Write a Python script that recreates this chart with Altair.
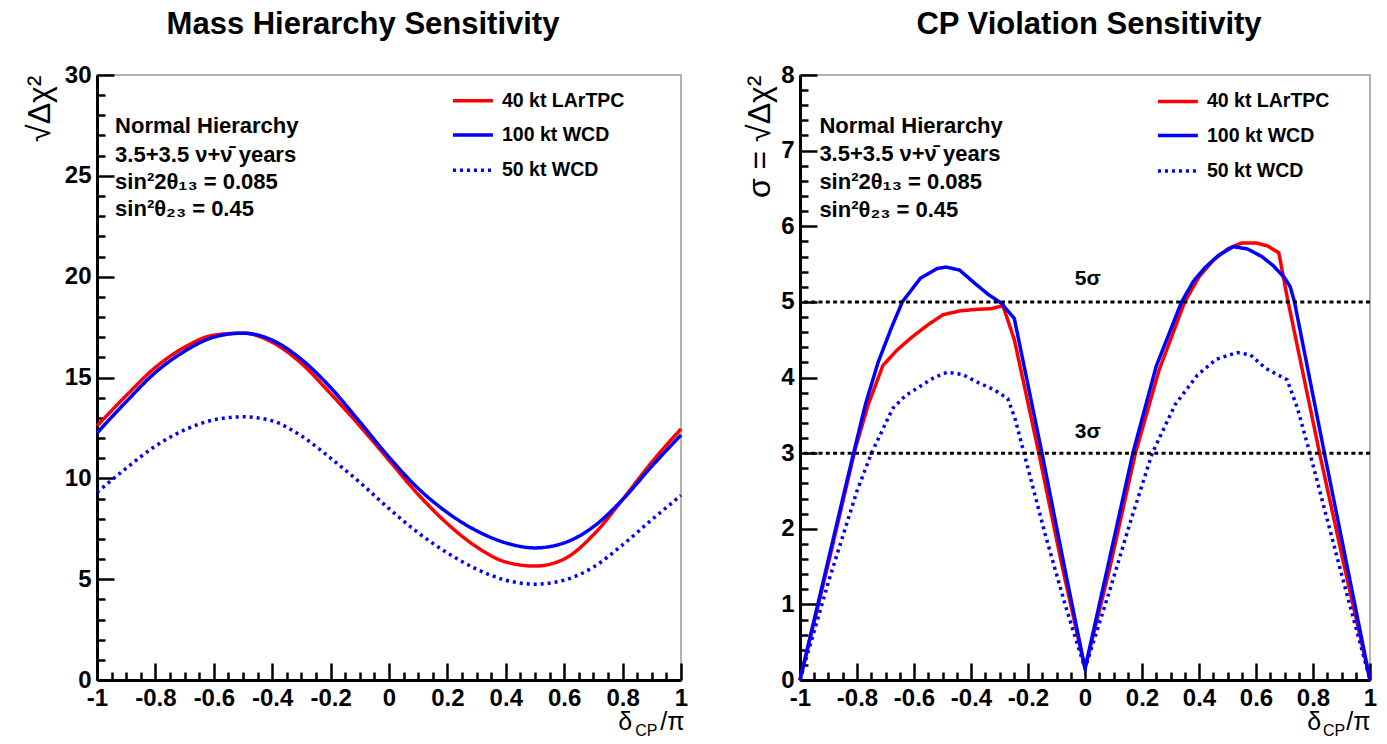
import altair as alt
import pandas as pd

FONT = "Liberation Sans"
SERIES = ["40 kt LArTPC", "100 kt WCD", "50 kt WCD"]
COLORS = ["#ff0000", "#0000ff", "#0000ff"]
DASHES = [[1, 0], [1, 0], [3, 4]]

# ---------------- Mass hierarchy sensitivity (left) ----------------
MH_X = [-1.0, -0.9, -0.8, -0.7, -0.6, -0.5, -0.4, -0.3, -0.2, -0.1, 0.0,
        0.1, 0.2, 0.3, 0.4, 0.5, 0.6, 0.7, 0.8, 0.9, 1.0]
MH_LAR = [12.6, 14.1, 15.5, 16.5, 17.1, 17.2, 16.75, 15.7, 14.2, 12.6, 10.9,
          9.2, 7.75, 6.6, 5.85, 5.65, 6.0, 7.2, 8.95, 10.8, 12.45]
MH_WCD100 = [12.25, 13.8, 15.25, 16.3, 17.0, 17.2, 16.85, 15.9, 14.5, 12.8, 11.05,
             9.5, 8.3, 7.4, 6.8, 6.55, 6.8, 7.6, 8.95, 10.6, 12.15]
MH_WCD50 = [9.3, 10.5, 11.6, 12.4, 12.9, 13.05, 12.85, 12.1, 11.0, 9.8, 8.5,
            7.3, 6.3, 5.5, 4.95, 4.75, 4.95, 5.6, 6.7, 7.95, 9.15]

# ---------------- CP violation sensitivity (right) ----------------
CP_LAR_X = [-1.0, -0.9, -0.806, -0.76, -0.709, -0.66, -0.612, -0.55, -0.498, -0.44,
            -0.385, -0.33, -0.288, -0.248, -0.162, -0.08, 0.0,
            0.085, 0.177, 0.26, 0.35, 0.40, 0.45, 0.50, 0.55, 0.60, 0.64, 0.68,
            0.71, 0.823, 0.91, 1.0]
CP_LAR_Y = [0.0, 1.55, 3.06, 3.65, 4.16, 4.36, 4.52, 4.7, 4.83, 4.88,
            4.9, 4.91, 4.95, 4.5, 3.0, 1.5, 0.15,
            1.45, 3.0, 4.1, 5.0, 5.33, 5.55, 5.7, 5.78, 5.78, 5.74, 5.65,
            5.05, 3.0, 1.5, 0.0]
CP_WCD100_X = [-1.0, -0.95, -0.9, -0.85, -0.812, -0.77, -0.726, -0.68, -0.641, -0.578,
               -0.52, -0.487, -0.44, -0.385, -0.34, -0.293, -0.248, -0.151, -0.075, 0.0,
               0.08, 0.168, 0.25, 0.339, 0.38, 0.42, 0.47, 0.52, 0.57, 0.62, 0.66,
               0.70, 0.72, 0.735, 0.84, 0.92, 1.0]
CP_WCD100_Y = [0.0, 0.8, 1.6, 2.4, 3.0, 3.65, 4.2, 4.65, 5.0, 5.31,
               5.44, 5.46, 5.42, 5.24, 5.1, 4.98, 4.78, 3.0, 1.55, 0.15,
               1.5, 3.0, 4.15, 5.0, 5.27, 5.45, 5.62, 5.73, 5.7, 5.6, 5.48,
               5.32, 5.2, 5.0, 3.0, 1.5, 0.0]
CP_WCD50_X = [-1.0, -0.9, -0.8, -0.749, -0.675, -0.63, -0.584, -0.53, -0.483, -0.43,
              -0.379, -0.32, -0.271, -0.245, -0.214, -0.14, -0.07, 0.0,
              0.088, 0.16, 0.236, 0.316, 0.394, 0.46, 0.533, 0.58, 0.634, 0.709,
              0.745, 0.789, 0.9, 1.0]
CP_WCD50_Y = [0.0, 1.3, 2.5, 3.0, 3.59, 3.76, 3.87, 4.0, 4.07, 4.04,
              3.94, 3.84, 3.72, 3.45, 3.0, 1.93, 1.0, 0.15,
              1.2, 2.1, 3.0, 3.64, 4.03, 4.24, 4.33, 4.3, 4.12, 3.97,
              3.6, 3.0, 1.4, 0.0]

SIGMA_LEVELS = [3, 5]
SIGMA_LABELS = ["3σ", "5σ"]
SIGMA_LABEL_X = [0.01, 0.01]
SIGMA_LABEL_Y = [3.28, 5.30]

NOTES = ["Normal Hierarchy", "3.5+3.5 ν+ν̄ years", "sin²2θ₁₃ = 0.085", "sin²θ₂₃ = 0.45"]
XTITLE_PARTS = ["δ", "CP", "/π"]
XTITLE_SIZES = [25, 16, 25]

# annotation anchors in data units
MH_NOTE_X, MH_NOTE_Y = -0.938, [27.47, 26.03, 24.69, 23.35]
CP_NOTE_X, CP_NOTE_Y = -0.932, [7.33, 6.96, 6.58, 6.21]
MH_LEG = dict(x1=0.219, x2=0.356, xt=0.387, y=[28.72, 27.02, 25.28])
CP_LEG = dict(x1=0.256, x2=0.396, xt=0.428, y=[7.65, 7.2, 6.73])
MH_XT = dict(x=[0.785, 0.843, 0.929], y=[-2.083, -2.53, -2.083])
CP_XT = dict(x=[0.78, 0.835, 0.917], y=[-0.555, -0.674, -0.555])

X_MAJOR = [-1, -0.8, -0.6, -0.4, -0.2, 0, 0.2, 0.4, 0.6, 0.8, 1]
X_MINOR = [round(-1 + 0.05 * i, 2) for i in range(41) if i % 4]
MH_Y_MAJOR = [0, 5, 10, 15, 20, 25, 30]
MH_Y_MINOR = [v for v in range(31) if v % 5]
CP_Y_MAJOR = [0, 1, 2, 3, 4, 5, 6, 7, 8]
CP_Y_MINOR = [round(0.2 * i, 1) for i in range(41) if i % 5]

H = 605


def long_df(parts):
    rows = []
    for name, xs, ys in parts:
        for i, (x, y) in enumerate(zip(xs, ys)):
            rows.append({"series": name, "x": x, "y": y, "i": i})
    return pd.DataFrame(rows)


def panel(df, W, interp, ymax, y_major, y_minor, y_title, title_pad, leg, note_x, note_y, xt,
          title, title_dx, extra=()):
    xsc = alt.Scale(domain=[-1, 1], nice=False, zero=False)
    ysc = alt.Scale(domain=[0, ymax], nice=False, zero=False)
    col = alt.Color("series:N", scale=alt.Scale(domain=SERIES, range=COLORS), legend=None)
    dash = alt.StrokeDash("series:N", scale=alt.Scale(domain=SERIES, range=DASHES), legend=None)

    xaxis = alt.Axis(orient="bottom", values=X_MAJOR, labelExpr="'' + datum.value", ticks=False,
                     domainColor="black", domainWidth=3, labelFont=FONT, labelFontSize=24,
                     labelFontWeight="bold", labelColor="black", labelPadding=6, grid=False,
                     title=None, labelFlush=False)
    yaxis = alt.Axis(orient="left", values=y_major, labelExpr="'' + datum.value", ticks=False,
                     domainColor="black", domainWidth=3, labelFont=FONT, labelFontSize=24,
                     labelFontWeight="bold", labelColor="black", labelPadding=6, grid=False,
                     title=y_title, titleAnchor="end", titleFont=FONT, titleFontSize=32,
                     titleFontWeight="normal", titleColor="black", titlePadding=title_pad,
                     labelFlush=False)

    lines = alt.Chart(df).mark_line(strokeWidth=3.5, interpolate=interp).encode(
        x=alt.X("x:Q", scale=xsc, axis=xaxis),
        y=alt.Y("y:Q", scale=ysc, axis=yaxis),
        color=col, strokeDash=dash, order="i:Q",
    )

    leg_df = pd.DataFrame({"series": SERIES, "x1": leg["x1"], "x2": leg["x2"],
                           "xt": leg["xt"], "y": leg["y"]})
    leg_lines = alt.Chart(leg_df).mark_rule(strokeWidth=3.5).encode(
        x=alt.X("x1:Q", scale=xsc), x2="x2:Q", y=alt.Y("y:Q", scale=ysc),
        color=col, strokeDash=dash)
    leg_text = alt.Chart(leg_df).mark_text(align="left", baseline="middle", font=FONT,
                                           fontSize=19.5, fontWeight="bold", color="black").encode(
        x=alt.X("xt:Q", scale=xsc), y=alt.Y("y:Q", scale=ysc), text="series:N")

    note_df = pd.DataFrame({"text": NOTES, "x": note_x, "y": note_y})
    notes = alt.Chart(note_df).mark_text(align="left", baseline="middle", font=FONT,
                                         fontSize=22, fontWeight="bold", color="black").encode(
        x=alt.X("x:Q", scale=xsc), y=alt.Y("y:Q", scale=ysc), text="text:N")

    xt_df = pd.DataFrame({"text": XTITLE_PARTS, "x": xt["x"], "y": xt["y"], "fs": XTITLE_SIZES})
    xtitle = alt.Chart(xt_df).mark_text(align="left", baseline="middle", font=FONT,
                                        color="black").encode(
        x=alt.X("x:Q", scale=xsc), y=alt.Y("y:Q", scale=ysc), text="text:N",
        size=alt.Size("fs:Q", scale=None))

    inner = alt.layer(lines, leg_lines, leg_text, notes, xtitle, *[e(xsc, ysc) for e in extra])

    dummy = pd.DataFrame({"x": [-1, 1], "y": [0, ymax]})

    def ticks(xv, yv, size):
        return alt.Chart(dummy).mark_point(opacity=0).encode(
            x=alt.X("x:Q", scale=xsc, axis=alt.Axis(orient="top", offset=-H, values=xv,
                                                     tickSize=size, tickWidth=2.5, tickColor="black",
                                                     labels=False, domain=False, grid=False, title=None)),
            y=alt.Y("y:Q", scale=ysc, axis=alt.Axis(orient="right", offset=-W, values=yv,
                                                     tickSize=size, tickWidth=2.5, tickColor="black",
                                                     labels=False, domain=False, grid=False, title=None)),
        )

    return alt.layer(inner, ticks(X_MAJOR, y_major, 17), ticks(X_MINOR, y_minor, 8)).resolve_scale(
        x="independent", y="independent").properties(
        width=W, height=H,
        title=alt.TitleParams(title, font=FONT, fontSize=31, fontWeight="bold", anchor="middle",
                              color="black", offset=22, dx=title_dx))


def sigma_layers(xsc, ysc):
    sdf = pd.DataFrame({"y": SIGMA_LEVELS})
    return alt.Chart(sdf).mark_rule(color="black", strokeWidth=3, strokeDash=[4, 3.3]).encode(
        y=alt.Y("y:Q", scale=ysc))


def sigma_text(xsc, ysc):
    tdf = pd.DataFrame({"text": SIGMA_LABELS, "x": SIGMA_LABEL_X, "y": SIGMA_LABEL_Y})
    return alt.Chart(tdf).mark_text(align="center", baseline="middle", font=FONT, fontSize=21,
                                    fontWeight="bold", color="black").encode(
        x=alt.X("x:Q", scale=xsc), y=alt.Y("y:Q", scale=ysc), text="text:N")


mh_df = long_df([(SERIES[0], MH_X, MH_LAR), (SERIES[1], MH_X, MH_WCD100), (SERIES[2], MH_X, MH_WCD50)])
cp_df = long_df([(SERIES[0], CP_LAR_X, CP_LAR_Y), (SERIES[1], CP_WCD100_X, CP_WCD100_Y),
                 (SERIES[2], CP_WCD50_X, CP_WCD50_Y)])

left = panel(mh_df, 584, "monotone", 30, MH_Y_MAJOR, MH_Y_MINOR, "√Δχ²", 8, MH_LEG, MH_NOTE_X,
             MH_NOTE_Y, MH_XT, "Mass Hierarchy Sensitivity", -26)
right = panel(cp_df, 570, "linear", 8, CP_Y_MAJOR, CP_Y_MINOR, "σ = √Δχ²", 4, CP_LEG, CP_NOTE_X,
              CP_NOTE_Y, CP_XT, "CP Violation Sensitivity", 4, extra=(sigma_layers, sigma_text))

chart = alt.hconcat(left, right, spacing=53).configure_view(
    stroke="#999999", strokeWidth=1.5).properties(
    padding={"left": 14, "top": 0, "right": 0, "bottom": 0}, background="white")

chart.save("out.html", embed_options={"renderer": "svg", "actions": False})
